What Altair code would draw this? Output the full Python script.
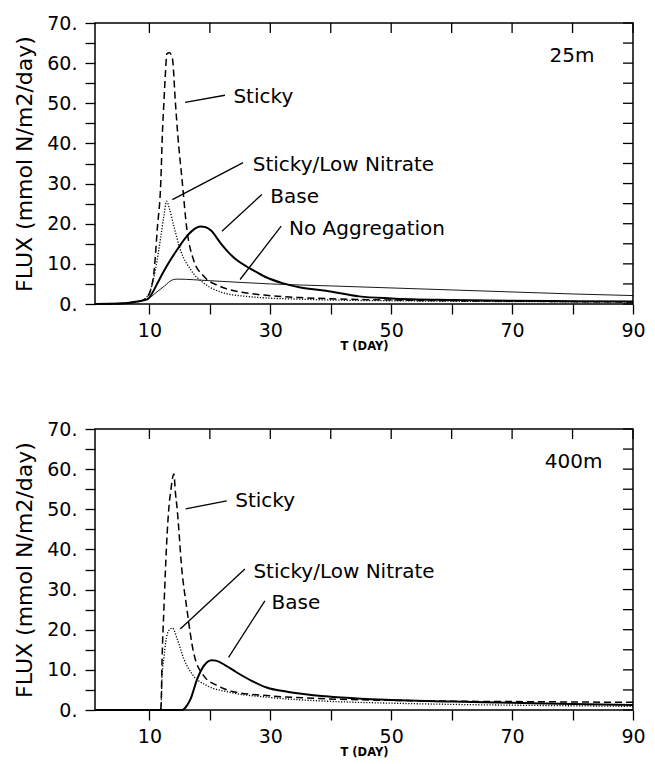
import altair as alt
import pandas as pd

FONT = "DejaVu Sans"

# ---------------- 25 m panel ----------------
t_base25 = [1, 5, 7, 8, 9, 9.7, 10.5, 11.3, 12.4, 13.5, 14.8, 16.2, 17.2, 17.9, 18.5, 19.2, 20.2, 21.7, 23.0, 24.4, 26.0, 27.2, 29.4, 32.0, 35.0, 39.2, 44.7, 50, 60, 70, 80, 90]
v_base25 = [0, 0.1, 0.35, 0.6, 0.9, 1.2, 2.8, 5.1, 8.2, 11.0, 14.0, 16.9, 18.4, 19.1, 19.3, 19.2, 18.3, 15.3, 13.0, 11.0, 9.4, 8.4, 6.6, 5.2, 4.1, 3.3, 1.9, 1.4, 1.0, 0.8, 0.7, 0.6]

t_noagg25 = [1, 5, 7, 8, 9, 9.7, 11.0, 12.5, 13.8, 14.6, 20, 30, 40, 50, 60, 70, 80, 90]
v_noagg25 = [0, 0.1, 0.35, 0.6, 0.9, 1.2, 2.7, 4.5, 6.0, 6.2, 5.8, 5.0, 4.5, 4.0, 3.5, 3.0, 2.5, 2.1]

t_sticky25 = [1, 5, 7, 8, 9, 9.6, 10.1, 10.8, 11.3, 11.9, 12.15, 12.4, 12.65, 12.9, 13.3, 13.8, 14.3, 14.7, 15.4, 16.2, 17.3, 19.0, 21.7, 26.1, 29.4, 35, 40, 50, 60, 70, 80, 90]
v_sticky25 = [0, 0.1, 0.35, 0.6, 1.0, 1.8, 3.0, 8.6, 18.6, 31.0, 42.5, 50.2, 57.5, 62.4, 62.6, 61.2, 50.2, 42.0, 31.0, 18.6, 11.0, 6.9, 4.4, 2.75, 2.15, 1.6, 1.3, 1.0, 0.8, 0.7, 0.6, 0.5]

t_lown25 = [1, 5, 7, 8, 9, 9.6, 10.2, 11.0, 11.9, 12.4, 12.85, 13.3, 14.05, 15.1, 16.8, 19.0, 22.3, 26.0, 29.4, 35, 40, 50, 60, 70, 80, 90]
v_lown25 = [0, 0.1, 0.35, 0.6, 1.0, 1.8, 3.6, 8.6, 16.9, 22.0, 25.6, 23.8, 19.4, 13.6, 8.6, 5.2, 2.75, 1.9, 1.5, 1.2, 1.0, 0.8, 0.7, 0.6, 0.55, 0.5]

# ---------------- 400 m panel ----------------
t_base400 = [1, 15.5, 15.9, 16.8, 17.9, 19.0, 20.3, 21.0, 22.5, 24.4, 27.0, 29.4, 33.0, 39.2, 45, 50, 60, 70, 80, 90]
v_base400 = [0, 0, 0.5, 2.7, 7.7, 11.0, 12.4, 12.3, 11.2, 9.4, 7.2, 5.6, 4.5, 3.4, 2.8, 2.5, 2.1, 1.8, 1.5, 1.25]

t_sticky400 = [1, 11.85, 11.95, 12.1, 12.4, 12.7, 12.95, 13.2, 13.5, 14.05, 14.3, 14.6, 14.9, 15.25, 16.2, 17.3, 19.0, 21.2, 24.4, 29.4, 39.2, 50, 60, 70, 80, 90]
v_sticky400 = [0, 0, 2.0, 12.7, 25.2, 36.5, 44.3, 50.0, 54.2, 58.8, 54.2, 50.0, 44.3, 37.0, 25.2, 14.4, 8.5, 6.1, 4.4, 3.6, 2.8, 2.4, 2.2, 2.1, 2.0, 1.9]

t_lown400 = [1, 11.9, 12.1, 12.4, 12.7, 13.2, 13.8, 14.6, 15.7, 17.3, 19.5, 23.3, 29.4, 39.2, 50, 60, 70, 80, 90]
v_lown400 = [0, 0, 8.5, 13.0, 16.9, 19.8, 20.4, 17.7, 12.7, 8.5, 6.1, 4.4, 3.2, 2.2, 1.7, 1.4, 1.2, 1.05, 0.9]

# ---------------- annotations (data coordinates) ----------------
lab25_text = ["Sticky", "Sticky/Low Nitrate", "Base", "No Aggregation", "25m"]
lab25_t = [23.9, 27.1, 30.0, 33.1, 76.2]
lab25_v = [50.0, 33.1, 25.2, 17.3, 60.4]
lead25_t1 = [15.9, 13.8, 22.0, 25.0]
lead25_v1 = [50.2, 26.0, 18.1, 6.1]
lead25_t2 = [22.5, 25.5, 28.6, 31.8]
lead25_v2 = [52.0, 35.2, 27.3, 19.4]

lab400_text = ["Sticky", "Sticky/Low Nitrate", "Base", "400m"]
lab400_t = [24.2, 27.2, 30.2, 75.4]
lab400_v = [50.5, 32.9, 25.2, 60.4]
lead400_t1 = [16.0, 15.1, 23.1]
lead400_v1 = [50.1, 20.2, 13.1]
lead400_t2 = [22.8, 25.8, 29.1]
lead400_v2 = [52.1, 35.1, 27.2]

x_ticks = [10, 20, 30, 40, 50, 60, 70, 80, 90]
y_ticks = list(range(0, 71, 5))

STYLES = {
    "Base": dict(strokeWidth=2.0),
    "No Aggregation": dict(strokeWidth=0.9),
    "Sticky": dict(strokeWidth=1.5, strokeDash=[7, 4]),
    "Sticky/Low Nitrate": dict(strokeWidth=1.3, strokeDash=[1.2, 1.6]),
}

W, H = 538, 281
TICK = 10
X0, X1, Y0, Y1 = 1, 90, 0, 70
XS = alt.Scale(domain=[X0, X1], nice=False, zero=False)
YS = alt.Scale(domain=[Y0, Y1], nice=False, zero=True)
TX = TICK * (X1 - X0) / W   # tick length in data units
TY = TICK * (Y1 - Y0) / H

AX_COMMON = dict(tickSize=TICK, tickColor="black", tickWidth=1.3, domain=False, grid=False)

XAX = alt.Axis(orient="bottom", values=x_ticks, labelExpr="datum.value % 20 == 10 ? datum.label : ''",
               title="T (DAY)", titleFontSize=11.5, titleFontWeight="bold", titleFont=FONT,
               titlePadding=0, titleColor="black",
               labelFont=FONT, labelFontSize=19, labelColor="black", labelPadding=7,
               labelFlush=False, labelOverlap=False, **AX_COMMON)
YAX = alt.Axis(orient="left", values=y_ticks, labelExpr="datum.value % 10 == 0 ? datum.value + '.' : ''",
               title="FLUX (mmol N/m2/day)", titleFontSize=22, titleFontWeight="normal",
               titleFont=FONT, titlePadding=10, titleColor="black",
               labelFont=FONT, labelFontSize=19, labelColor="black", labelPadding=8,
               labelFlush=False, labelOverlap=False, **AX_COMMON)


def panel(series, lab_text, lab_t, lab_v, l_t1, l_v1, l_t2, l_v2):
    layers = []
    first = True
    for name, (ts, vs) in series.items():
        df = pd.DataFrame({"t": ts, "v": vs})
        layers.append(alt.Chart(df).mark_line(color="black", interpolate="monotone",
                                              **STYLES[name]).encode(
            x=alt.X("t:Q", scale=XS, axis=XAX if first else None),
            y=alt.Y("v:Q", scale=YS, axis=YAX if first else None)))
        first = False

    # tick marks along the top and right frame edges, placed through the scales
    top_df = pd.DataFrame({"t": x_ticks, "a": [Y1] * len(x_ticks), "b": [Y1 - TY] * len(x_ticks)})
    top_ticks = alt.Chart(top_df).mark_rule(color="black", strokeWidth=1.3).encode(
        x=alt.X("t:Q", scale=XS, axis=None),
        y=alt.Y("a:Q", scale=YS, axis=None), y2="b:Q",
    )
    right_df = pd.DataFrame({"v": y_ticks, "a": [X1] * len(y_ticks), "b": [X1 - TX] * len(y_ticks)})
    right_ticks = alt.Chart(right_df).mark_rule(color="black", strokeWidth=1.3).encode(
        y=alt.Y("v:Q", scale=YS, axis=None),
        x=alt.X("a:Q", scale=XS, axis=None), x2="b:Q",
    )

    lead = pd.DataFrame({"t1": l_t1, "v1": l_v1, "t2": l_t2, "v2": l_v2})
    rules = alt.Chart(lead).mark_rule(color="black", strokeWidth=1.3).encode(
        x=alt.X("t1:Q", scale=XS, axis=None),
        y=alt.Y("v1:Q", scale=YS, axis=None),
        x2="t2:Q", y2="v2:Q",
    )
    labs = pd.DataFrame({"text": lab_text, "t": lab_t, "v": lab_v})
    texts = alt.Chart(labs).mark_text(align="left", baseline="alphabetic", font=FONT, fontSize=20,
                                      color="black").encode(
        x=alt.X("t:Q", scale=XS, axis=None),
        y=alt.Y("v:Q", scale=YS, axis=None),
        text="text:N",
    )
    return alt.layer(*layers, top_ticks, right_ticks, rules, texts).resolve_axis(
        x="independent", y="independent").properties(width=W, height=H)


top = panel({"No Aggregation": (t_noagg25, v_noagg25),
             "Sticky/Low Nitrate": (t_lown25, v_lown25),
             "Sticky": (t_sticky25, v_sticky25),
             "Base": (t_base25, v_base25)},
            lab25_text, lab25_t, lab25_v, lead25_t1, lead25_v1, lead25_t2, lead25_v2)

bottom = panel({"Sticky/Low Nitrate": (t_lown400, v_lown400),
                "Sticky": (t_sticky400, v_sticky400),
                "Base": (t_base400, v_base400)},
               lab400_text, lab400_t, lab400_v, lead400_t1, lead400_v1, lead400_t2, lead400_v2)

chart = alt.vconcat(top, bottom, spacing=66).properties(
    padding={"left": 5, "top": 5, "right": 0, "bottom": 0},
    background="white",
).configure_view(stroke="black", strokeWidth=1.5)

chart.save("out.html", embed_options={"renderer": "svg", "actions": False})
